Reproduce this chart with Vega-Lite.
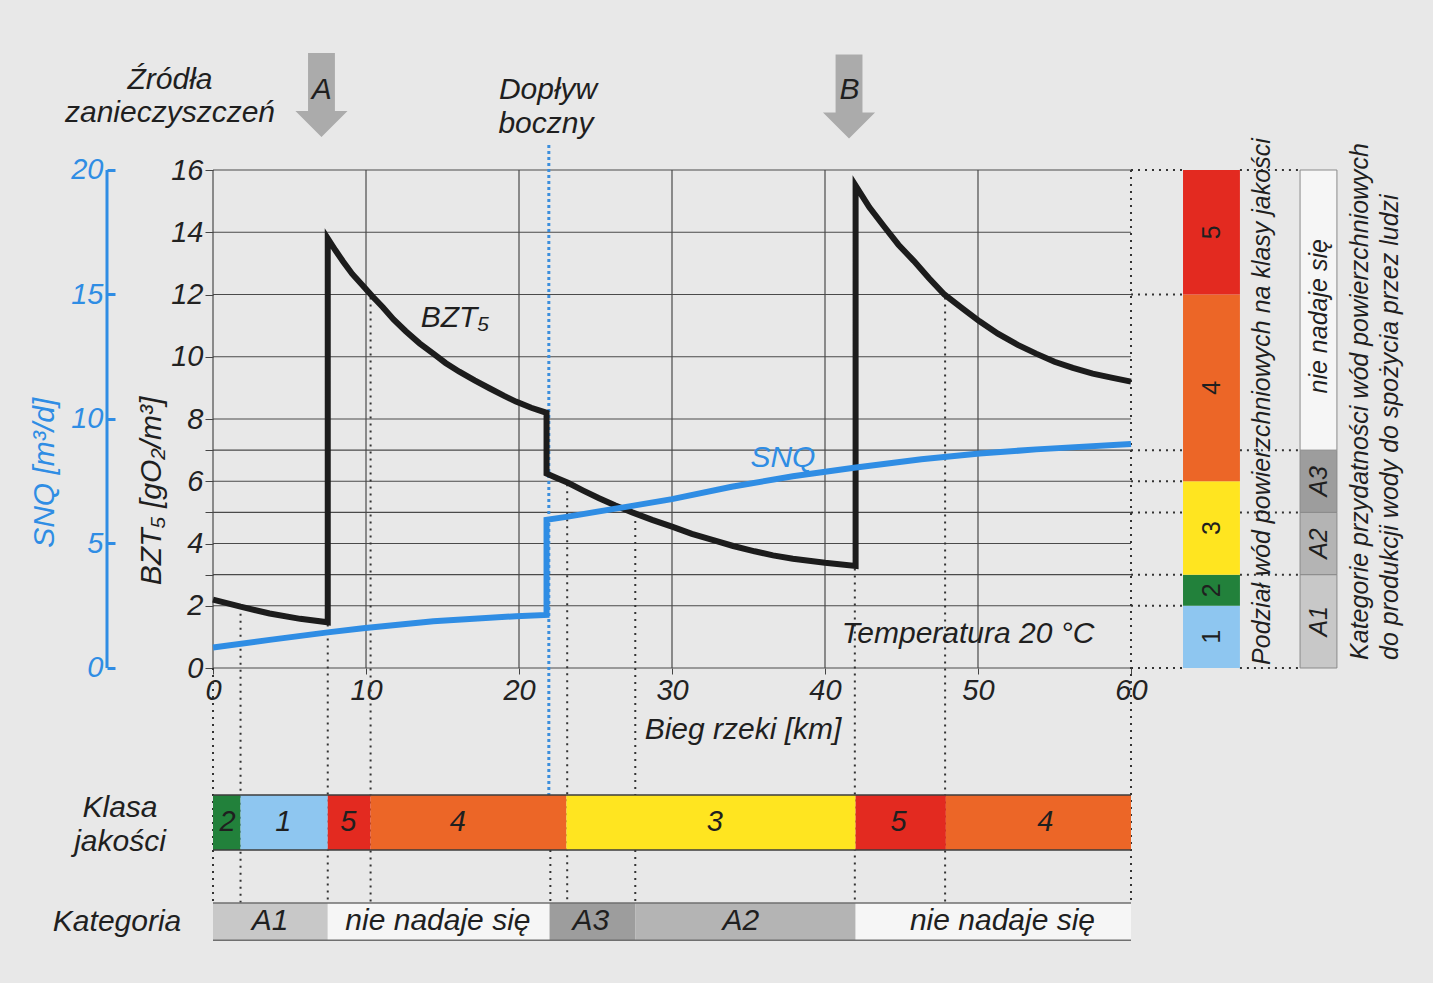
{
  "$schema": "https://vega.github.io/schema/vega-lite/v6.json",
  "width": 1433,
  "height": 983,
  "autosize": {"type": "none"},
  "padding": 0,
  "background": "#E8E8E8",
  "config": {"view": {"stroke": null}, "font": "Liberation Sans"},
  "datasets": {
    "bzt": [
      {"km": 0, "v": 2.2, "i": 0}, {"km": 1.8, "v": 1.97, "i": 1}, {"km": 3.7, "v": 1.75, "i": 2},
      {"km": 5.7, "v": 1.58, "i": 3}, {"km": 7.5, "v": 1.47, "i": 4}, {"km": 7.5, "v": 13.8, "i": 5},
      {"km": 8.0, "v": 13.42, "i": 6}, {"km": 8.5, "v": 13.06, "i": 7}, {"km": 9.1, "v": 12.66, "i": 8},
      {"km": 9.8, "v": 12.28, "i": 9}, {"km": 10.4, "v": 11.95, "i": 10}, {"km": 11.1, "v": 11.59, "i": 11},
      {"km": 11.8, "v": 11.2, "i": 12}, {"km": 12.6, "v": 10.82, "i": 13}, {"km": 13.5, "v": 10.43, "i": 14},
      {"km": 14.4, "v": 10.1, "i": 15}, {"km": 15.2, "v": 9.8, "i": 16}, {"km": 16.1, "v": 9.52, "i": 17},
      {"km": 17.1, "v": 9.24, "i": 18}, {"km": 18.1, "v": 8.98, "i": 19}, {"km": 19.0, "v": 8.75, "i": 20},
      {"km": 19.8, "v": 8.56, "i": 21}, {"km": 20.8, "v": 8.36, "i": 22}, {"km": 21.8, "v": 8.2, "i": 23},
      {"km": 21.8, "v": 6.25, "i": 24}, {"km": 22.5, "v": 6.1, "i": 25}, {"km": 23.2, "v": 5.95, "i": 26},
      {"km": 24.2, "v": 5.7, "i": 27}, {"km": 25.2, "v": 5.46, "i": 28}, {"km": 26.3, "v": 5.22, "i": 29},
      {"km": 27.4, "v": 5.0, "i": 30}, {"km": 28.7, "v": 4.76, "i": 31}, {"km": 30, "v": 4.54, "i": 32},
      {"km": 31.3, "v": 4.31, "i": 33}, {"km": 32.7, "v": 4.11, "i": 34}, {"km": 34, "v": 3.92, "i": 35},
      {"km": 35.4, "v": 3.75, "i": 36}, {"km": 36.6, "v": 3.62, "i": 37}, {"km": 37.9, "v": 3.51, "i": 38},
      {"km": 40, "v": 3.38, "i": 39}, {"km": 42, "v": 3.28, "i": 40}, {"km": 42, "v": 15.5, "i": 41},
      {"km": 42.9, "v": 14.8, "i": 42}, {"km": 43.9, "v": 14.16, "i": 43}, {"km": 44.8, "v": 13.6, "i": 44},
      {"km": 45.8, "v": 13.08, "i": 45}, {"km": 46.8, "v": 12.52, "i": 46}, {"km": 47.8, "v": 12.0, "i": 47},
      {"km": 49, "v": 11.55, "i": 48}, {"km": 50.1, "v": 11.14, "i": 49}, {"km": 51.3, "v": 10.74, "i": 50},
      {"km": 52.6, "v": 10.38, "i": 51}, {"km": 53.8, "v": 10.1, "i": 52}, {"km": 55, "v": 9.84, "i": 53},
      {"km": 56.2, "v": 9.64, "i": 54}, {"km": 57.5, "v": 9.46, "i": 55}, {"km": 58.8, "v": 9.32, "i": 56},
      {"km": 60, "v": 9.2, "i": 57}
    ],
    "snq": [
      {"km": 0, "q": 0.82, "i": 0}, {"km": 3.7, "q": 1.13, "i": 1}, {"km": 7.5, "q": 1.43, "i": 2},
      {"km": 9.8, "q": 1.6, "i": 3}, {"km": 14.4, "q": 1.88, "i": 4}, {"km": 19.8, "q": 2.08, "i": 5},
      {"km": 21.8, "q": 2.13, "i": 6}, {"km": 21.8, "q": 5.95, "i": 7}, {"km": 23.2, "q": 6.08, "i": 8},
      {"km": 27.2, "q": 6.49, "i": 9}, {"km": 30, "q": 6.78, "i": 10}, {"km": 33.9, "q": 7.28, "i": 11},
      {"km": 37.9, "q": 7.7, "i": 12}, {"km": 41.9, "q": 8.04, "i": 13}, {"km": 46.3, "q": 8.38, "i": 14},
      {"km": 50.1, "q": 8.61, "i": 15}, {"km": 53.8, "q": 8.78, "i": 16}, {"km": 60, "q": 9.0, "i": 17}
    ],
    "hgrid": [{"v": 0}, {"v": 2}, {"v": 3}, {"v": 4}, {"v": 5}, {"v": 6}, {"v": 7}, {"v": 8}, {"v": 10}, {"v": 12}, {"v": 14}, {"v": 16}],
    "vgrid": [{"km": 0}, {"km": 10}, {"km": 20}, {"km": 30}, {"km": 40}, {"km": 50}],
    "vdots": [
      {"km": 0, "top": 0}, {"km": 1.8, "top": 1.97}, {"km": 7.5, "top": 1.4}, {"km": 10.3, "top": 11.9},
      {"km": 22.05, "top": -5.85}, {"km": 23.15, "top": 5.9}, {"km": 27.6, "top": 4.95}, {"km": 41.95, "top": 3.2},
      {"km": 47.85, "top": 11.9}, {"km": 60, "top": 16}
    ],
    "rdotsA": [{"v": 16}, {"v": 12}, {"v": 7}, {"v": 6}, {"v": 5}, {"v": 3}, {"v": 2}, {"v": 0}],
    "rdotsB": [{"v": 16}, {"v": 7}, {"v": 5}, {"v": 3}, {"v": 0}],
    "klasa": [
      {"a": 0, "b": 1.8, "cls": "2", "mid": 0.95}, {"a": 1.8, "b": 7.5, "cls": "1", "mid": 4.6},
      {"a": 7.5, "b": 10.3, "cls": "5", "mid": 8.85}, {"a": 10.3, "b": 23.1, "cls": "4", "mid": 16.0},
      {"a": 23.1, "b": 42, "cls": "3", "mid": 32.8}, {"a": 42, "b": 47.9, "cls": "5", "mid": 44.8},
      {"a": 47.9, "b": 60, "cls": "4", "mid": 54.4}
    ],
    "kat": [
      {"a": 0, "b": 7.5, "cat": "A1", "t": "A1", "mid": 3.73},
      {"a": 7.5, "b": 22.0, "cat": "nie", "t": "nie nadaje się", "mid": 14.7},
      {"a": 22.0, "b": 27.6, "cat": "A3", "t": "A3", "mid": 24.7},
      {"a": 27.6, "b": 42, "cat": "A2", "t": "A2", "mid": 34.5},
      {"a": 42, "b": 60, "cat": "nie", "t": "nie nadaje się", "mid": 51.6}
    ],
    "rklasa": [
      {"lo": 0, "hi": 2, "cls": "1", "mid": 1.0}, {"lo": 2, "hi": 3, "cls": "2", "mid": 2.5},
      {"lo": 3, "hi": 6, "cls": "3", "mid": 4.5}, {"lo": 6, "hi": 12, "cls": "4", "mid": 9.0},
      {"lo": 12, "hi": 16, "cls": "5", "mid": 14.0}
    ],
    "rkat": [
      {"lo": 0, "hi": 3, "cat": "A1", "t": "A1", "mid": 1.5}, {"lo": 3, "hi": 5, "cat": "A2", "t": "A2", "mid": 4.0},
      {"lo": 5, "hi": 7, "cat": "A3", "t": "A3", "mid": 6.0}, {"lo": 7, "hi": 16, "cat": "nie", "t": "nie nadaje się", "mid": 11.3}
    ],
    "arrows": [{"x": 7.09, "y": 18.41}, {"x": 41.57, "y": 18.36}],
    "texts": [
      {"x": -2.81, "y": 18.89, "t": "Źródła"},
      {"x": -2.81, "y": 17.83, "t": "zanieczyszczeń"},
      {"x": 21.9, "y": 18.57, "t": "Dopływ"},
      {"x": 21.76, "y": 17.48, "t": "boczny"},
      {"x": 7.1, "y": 18.57, "t": "A"},
      {"x": 41.6, "y": 18.57, "t": "B"},
      {"x": 15.82, "y": 11.24, "t": "BZT₅"},
      {"x": 49.35, "y": 1.09, "t": "Temperatura 20 °C"},
      {"x": 34.64, "y": -1.99, "t": "Bieg rzeki [km]"},
      {"x": -6.08, "y": -4.5, "t": "Klasa"},
      {"x": -6.08, "y": -5.59, "t": "jakości"},
      {"x": -6.27, "y": -8.16, "t": "Kategoria"}
    ],
    "rtitles": [
      {"x": 68.56, "y": 0.1, "t": "Podział wód powierzchniowych na klasy jakości"},
      {"x": 74.97, "y": 0.26, "t": "Kategorie przydatności wód powierzchniowych"},
      {"x": 76.93, "y": 0.26, "t": "do produkcji wody do spożycia przez ludzi"}
    ]
  },
  "resolve": {"scale": {"y": "independent"}, "axis": {"x": "independent", "y": "independent"}},
  "layer": [
    {
      "resolve": {"axis": {"x": "independent", "y": "independent"}},
      "layer": [
        {
          "data": {"name": "hgrid"},
          "mark": {"type": "rule", "color": "#4a4a4a", "strokeWidth": 1.2},
          "encoding": {
            "x": {"datum": 0, "type": "quantitative", "scale": {"domain": [-13.922, 79.739], "nice": false, "zero": false}, "axis": null},
            "x2": {"datum": 60},
            "y": {"field": "v", "type": "quantitative", "scale": {"domain": [-10.12, 21.462], "nice": false, "zero": false}, "axis": null}
          }
        },
        {
          "data": {"name": "vgrid"},
          "mark": {"type": "rule", "color": "#4a4a4a", "strokeWidth": 1.2},
          "encoding": {
            "x": {"field": "km", "type": "quantitative", "scale": {"domain": [-13.922, 79.739], "nice": false, "zero": false}, "axis": null},
            "y": {"datum": 0, "type": "quantitative", "scale": {"domain": [-10.12, 21.462], "nice": false, "zero": false}, "axis": null},
            "y2": {"datum": 16}
          }
        },
        {
          "data": {"name": "vdots"},
          "mark": {"type": "rule", "color": "#333333", "strokeWidth": 2, "strokeDash": [2, 5]},
          "encoding": {
            "x": {"field": "km", "type": "quantitative", "scale": {"domain": [-13.922, 79.739], "nice": false, "zero": false}, "axis": null},
            "y": {"field": "top", "type": "quantitative", "scale": {"domain": [-10.12, 21.462], "nice": false, "zero": false}, "axis": null},
            "y2": {"datum": -7.55}
          }
        },
        {
          "data": {"values": [{"km": 21.95}]},
          "mark": {"type": "rule", "color": "#3B8EDC", "strokeWidth": 3, "strokeDash": [3, 3]},
          "encoding": {
            "x": {"field": "km", "type": "quantitative", "scale": {"domain": [-13.922, 79.739], "nice": false, "zero": false}, "axis": null},
            "y": {"datum": 16.8, "type": "quantitative", "scale": {"domain": [-10.12, 21.462], "nice": false, "zero": false}, "axis": null},
            "y2": {"datum": -4.08}
          }
        },
        {
          "data": {"name": "rdotsA"},
          "mark": {"type": "rule", "color": "#333333", "strokeWidth": 2, "strokeDash": [2, 5]},
          "encoding": {
            "x": {"datum": 60, "type": "quantitative", "scale": {"domain": [-13.922, 79.739], "nice": false, "zero": false}, "axis": null},
            "x2": {"datum": 63.4},
            "y": {"field": "v", "type": "quantitative", "scale": {"domain": [-10.12, 21.462], "nice": false, "zero": false}, "axis": null}
          }
        },
        {
          "data": {"name": "rdotsB"},
          "mark": {"type": "rule", "color": "#333333", "strokeWidth": 2, "strokeDash": [2, 5]},
          "encoding": {
            "x": {"datum": 67.12, "type": "quantitative", "scale": {"domain": [-13.922, 79.739], "nice": false, "zero": false}, "axis": null},
            "x2": {"datum": 71.05},
            "y": {"field": "v", "type": "quantitative", "scale": {"domain": [-10.12, 21.462], "nice": false, "zero": false}, "axis": null}
          }
        },
        {
          "data": {"name": "klasa"},
          "mark": {"type": "rect"},
          "encoding": {
            "x": {"field": "a", "type": "quantitative", "scale": {"domain": [-13.922, 79.739], "nice": false, "zero": false}, "axis": null},
            "x2": {"field": "b"},
            "y": {"datum": -4.08, "type": "quantitative", "scale": {"domain": [-10.12, 21.462], "nice": false, "zero": false}, "axis": null},
            "y2": {"datum": -5.85},
            "color": {"field": "cls", "type": "nominal", "legend": null, "scale": {"domain": ["1", "2", "3", "4", "5"], "range": ["#8EC6F0", "#22813B", "#FFE520", "#EC6627", "#E32A20"]}}
          }
        },
        {
          "data": {"name": "kat"},
          "mark": {"type": "rect"},
          "encoding": {
            "x": {"field": "a", "type": "quantitative", "scale": {"domain": [-13.922, 79.739], "nice": false, "zero": false}, "axis": null},
            "x2": {"field": "b"},
            "y": {"datum": -7.55, "type": "quantitative", "scale": {"domain": [-10.12, 21.462], "nice": false, "zero": false}, "axis": null},
            "y2": {"datum": -8.75},
            "fill": {"field": "cat", "type": "nominal", "legend": null, "scale": {"domain": ["A1", "A2", "A3", "nie"], "range": ["#C8C8C8", "#B4B4B4", "#9D9D9D", "#F6F6F6"]}}
          }
        },
        {
          "data": {"values": [{"v": -4.08}, {"v": -5.85}]},
          "mark": {"type": "rule", "color": "#3d3d3d", "strokeWidth": 1.5},
          "encoding": {
            "x": {"datum": 0, "type": "quantitative", "scale": {"domain": [-13.922, 79.739], "nice": false, "zero": false}, "axis": null},
            "x2": {"datum": 60},
            "y": {"field": "v", "type": "quantitative", "scale": {"domain": [-10.12, 21.462], "nice": false, "zero": false}, "axis": null}
          }
        },
        {
          "data": {"values": [{"v": -7.55}, {"v": -8.75}]},
          "mark": {"type": "rule", "color": "#6f6f6f", "strokeWidth": 1.5},
          "encoding": {
            "x": {"datum": 0, "type": "quantitative", "scale": {"domain": [-13.922, 79.739], "nice": false, "zero": false}, "axis": null},
            "x2": {"datum": 60},
            "y": {"field": "v", "type": "quantitative", "scale": {"domain": [-10.12, 21.462], "nice": false, "zero": false}, "axis": null}
          }
        },
        {
          "data": {"name": "rklasa"},
          "mark": {"type": "rect"},
          "encoding": {
            "x": {"datum": 63.4, "type": "quantitative", "scale": {"domain": [-13.922, 79.739], "nice": false, "zero": false}, "axis": null},
            "x2": {"datum": 67.12},
            "y": {"field": "lo", "type": "quantitative", "scale": {"domain": [-10.12, 21.462], "nice": false, "zero": false}, "axis": null},
            "y2": {"field": "hi"},
            "color": {"field": "cls", "type": "nominal", "legend": null, "scale": {"domain": ["1", "2", "3", "4", "5"], "range": ["#8EC6F0", "#22813B", "#FFE520", "#EC6627", "#E32A20"]}}
          }
        },
        {
          "data": {"name": "rkat"},
          "mark": {"type": "rect", "stroke": "#8a8a8a", "strokeWidth": 1},
          "encoding": {
            "x": {"datum": 71.05, "type": "quantitative", "scale": {"domain": [-13.922, 79.739], "nice": false, "zero": false}, "axis": null},
            "x2": {"datum": 73.46},
            "y": {"field": "lo", "type": "quantitative", "scale": {"domain": [-10.12, 21.462], "nice": false, "zero": false}, "axis": null},
            "y2": {"field": "hi"},
            "fill": {"field": "cat", "type": "nominal", "legend": null, "scale": {"domain": ["A1", "A2", "A3", "nie"], "range": ["#C8C8C8", "#B4B4B4", "#9D9D9D", "#F6F6F6"]}}
          }
        },
        {
          "data": {"name": "bzt"},
          "mark": {"type": "line", "color": "#1c1c1c", "strokeWidth": 6, "strokeJoin": "miter"},
          "encoding": {
            "x": {"field": "km", "type": "quantitative", "scale": {"domain": [-13.922, 79.739], "nice": false, "zero": false},
              "axis": {"orient": "bottom", "offset": -315, "values": [0, 10, 20, 30, 40, 50, 60], "domain": false, "grid": false, "tickSize": 6, "tickColor": "#444444", "labelFontStyle": "italic", "labelFontSize": 29, "labelColor": "#222222", "labelPadding": 2, "labelFlush": false, "labelOverlap": false, "title": null}},
            "y": {"field": "v", "type": "quantitative", "scale": {"domain": [-10.12, 21.462], "nice": false, "zero": false},
              "axis": {"orient": "left", "offset": -213, "values": [0, 2, 3, 4, 5, 6, 7, 8, 10, 12, 14, 16], "labelExpr": "(datum.value==3||datum.value==5||datum.value==7)?'':datum.label", "domain": false, "grid": false, "tickSize": 8, "tickColor": "#444444", "labelFontStyle": "italic", "labelFontSize": 29, "labelColor": "#222222", "labelPadding": 2, "labelFlush": false, "labelOverlap": false, "title": null}},
            "order": {"field": "i", "type": "quantitative"}
          }
        },
        {
          "data": {"name": "arrows"},
          "mark": {"type": "point", "shape": "M -0.32 -1 L 0.32 -1 L 0.32 0.38 L 0.62 0.38 L 0 1 L -0.62 0.38 L -0.32 0.38 Z", "filled": true, "size": 7056, "fill": "#ABABAB", "opacity": 1, "strokeWidth": 0},
          "encoding": {
            "x": {"field": "x", "type": "quantitative", "scale": {"domain": [-13.922, 79.739], "nice": false, "zero": false}, "axis": null},
            "y": {"field": "y", "type": "quantitative", "scale": {"domain": [-10.12, 21.462], "nice": false, "zero": false}, "axis": null}
          }
        },
        {
          "data": {"name": "texts"},
          "mark": {"type": "text", "fontSize": 30, "fontStyle": "italic", "color": "#1f1f1f", "align": "center", "baseline": "middle"},
          "encoding": {
            "x": {"field": "x", "type": "quantitative", "scale": {"domain": [-13.922, 79.739], "nice": false, "zero": false}, "axis": null},
            "y": {"field": "y", "type": "quantitative", "scale": {"domain": [-10.12, 21.462], "nice": false, "zero": false}, "axis": null},
            "text": {"field": "t"}
          }
        },
        {
          "data": {"name": "klasa"},
          "mark": {"type": "text", "fontSize": 29, "fontStyle": "italic", "color": "#1f1f1f", "align": "center", "baseline": "middle"},
          "encoding": {
            "x": {"field": "mid", "type": "quantitative", "scale": {"domain": [-13.922, 79.739], "nice": false, "zero": false}, "axis": null},
            "y": {"datum": -4.95, "type": "quantitative", "scale": {"domain": [-10.12, 21.462], "nice": false, "zero": false}, "axis": null},
            "text": {"field": "cls"}
          }
        },
        {
          "data": {"name": "kat"},
          "mark": {"type": "text", "fontSize": 30, "fontStyle": "italic", "color": "#1f1f1f", "align": "center", "baseline": "middle"},
          "encoding": {
            "x": {"field": "mid", "type": "quantitative", "scale": {"domain": [-13.922, 79.739], "nice": false, "zero": false}, "axis": null},
            "y": {"datum": -8.13, "type": "quantitative", "scale": {"domain": [-10.12, 21.462], "nice": false, "zero": false}, "axis": null},
            "text": {"field": "t"}
          }
        },
        {
          "data": {"name": "rklasa"},
          "mark": {"type": "text", "fontSize": 25, "color": "#1f1f1f", "align": "center", "baseline": "middle", "angle": 270},
          "encoding": {
            "x": {"datum": 65.3, "type": "quantitative", "scale": {"domain": [-13.922, 79.739], "nice": false, "zero": false}, "axis": null},
            "y": {"field": "mid", "type": "quantitative", "scale": {"domain": [-10.12, 21.462], "nice": false, "zero": false}, "axis": null},
            "text": {"field": "cls"}
          }
        },
        {
          "data": {"name": "rkat"},
          "mark": {"type": "text", "fontSize": 25, "fontStyle": "italic", "color": "#1f1f1f", "align": "center", "baseline": "middle", "angle": 270},
          "encoding": {
            "x": {"datum": 72.3, "type": "quantitative", "scale": {"domain": [-13.922, 79.739], "nice": false, "zero": false}, "axis": null},
            "y": {"field": "mid", "type": "quantitative", "scale": {"domain": [-10.12, 21.462], "nice": false, "zero": false}, "axis": null},
            "text": {"field": "t"}
          }
        },
        {
          "data": {"name": "rtitles"},
          "mark": {"type": "text", "fontSize": 25, "fontStyle": "italic", "color": "#1f1f1f", "align": "left", "baseline": "middle", "angle": 270},
          "encoding": {
            "x": {"field": "x", "type": "quantitative", "scale": {"domain": [-13.922, 79.739], "nice": false, "zero": false}, "axis": null},
            "y": {"field": "y", "type": "quantitative", "scale": {"domain": [-10.12, 21.462], "nice": false, "zero": false}, "axis": null},
            "text": {"field": "t"}
          }
        },
        {
          "data": {"values": [{"x": -3.99, "y": 5.69, "t": "BZT₅ [gO₂/m³]"}]},
          "mark": {"type": "text", "fontSize": 30, "fontStyle": "italic", "color": "#1f1f1f", "align": "center", "baseline": "middle", "angle": 270},
          "encoding": {
            "x": {"field": "x", "type": "quantitative", "scale": {"domain": [-13.922, 79.739], "nice": false, "zero": false}, "axis": null},
            "y": {"field": "y", "type": "quantitative", "scale": {"domain": [-10.12, 21.462], "nice": false, "zero": false}, "axis": null},
            "text": {"field": "t"}
          }
        },
        {
          "data": {"values": [{"x": -10.98, "y": 6.27, "t": "SNQ [m³/d]"}, {"x": 37.25, "y": 6.75, "t": "SNQ"}]},
          "mark": {"type": "text", "fontSize": 30, "fontStyle": "italic", "color": "#2F8DE4", "align": "center", "baseline": "middle"},
          "encoding": {
            "x": {"field": "x", "type": "quantitative", "scale": {"domain": [-13.922, 79.739], "nice": false, "zero": false}, "axis": null},
            "y": {"field": "y", "type": "quantitative", "scale": {"domain": [-10.12, 21.462], "nice": false, "zero": false}, "axis": null},
            "text": {"field": "t"},
            "angle": {"condition": {"test": "datum.t != 'SNQ'", "value": 270}, "value": 0}
          }
        }
      ]
    },
    {
      "resolve": {"axis": {"x": "independent", "y": "independent"}},
      "layer": [
        {
          "data": {"values": [{"x": -6.928}]},
          "mark": {"type": "rule", "color": "#2F8DE4", "strokeWidth": 3},
          "encoding": {
            "x": {"field": "x", "type": "quantitative", "scale": {"domain": [-13.922, 79.739], "nice": false, "zero": false}, "axis": null},
            "y": {"datum": 0, "type": "quantitative", "scale": {"domain": [-12.651, 26.827], "nice": false, "zero": false}, "axis": null},
            "y2": {"datum": 20}
          }
        },
        {
          "data": {"name": "snq"},
          "mark": {"type": "line", "color": "#2F8DE4", "strokeWidth": 6, "strokeJoin": "miter"},
          "encoding": {
            "x": {"field": "km", "type": "quantitative", "scale": {"domain": [-13.922, 79.739], "nice": false, "zero": false}, "axis": null},
            "y": {"field": "q", "type": "quantitative", "scale": {"domain": [-12.651, 26.827], "nice": false, "zero": false},
              "axis": {"orient": "left", "offset": -115, "values": [0, 5, 10, 15, 20], "domain": false, "grid": false, "tickSize": 8, "tickWidth": 3, "tickColor": "#2F8DE4", "labelColor": "#2F8DE4", "labelFontStyle": "italic", "labelFontSize": 29, "labelPadding": 4, "labelFlush": false, "labelOverlap": false, "title": null}},
            "order": {"field": "i", "type": "quantitative"}
          }
        }
      ]
    }
  ]
}
